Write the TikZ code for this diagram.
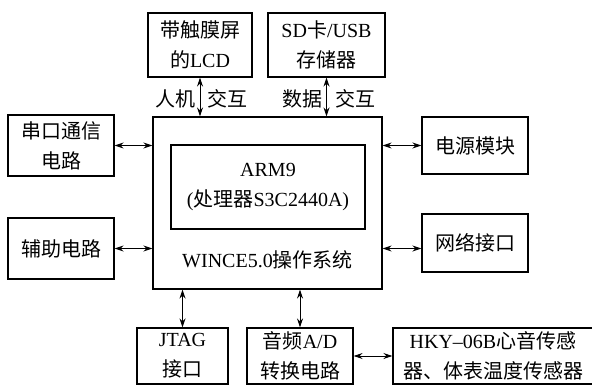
\documentclass[tikz,border=0pt]{standalone}
\usepackage{fontspec}
\setmainfont{Liberation Serif}
\newfontfamily\cjk{Noto Sans CJK SC}
\newcommand\zh[1]{{\cjk #1}}
\usetikzlibrary{arrows.meta}
\begin{document}
\begin{tikzpicture}[x=1pt,y=-1pt,
  box/.style={draw,line width=1.1pt,inner sep=0pt,align=center,font=\fontsize{20}{30}\selectfont},
  lbl/.style={inner sep=0pt,font=\fontsize{20}{30}\selectfont},
  link/.style={line width=0.9pt,{Stealth[length=9pt,width=6pt]}-{Stealth[length=9pt,width=6pt]}}]
\useasboundingbox (0,0) rectangle (592,385);
\node[box,minimum width=104pt,minimum height=64pt] (lcd) at (200,45) {\zh{带触膜屏}\\\zh{的}LCD};
\node[box,minimum width=117pt,minimum height=64pt] (sd) at (326.5,45) {SD\zh{卡}/USB\\\zh{存储器}};
\node[box,minimum width=106pt,minimum height=61pt] (serial) at (61,145.5) {\zh{串口通信}\\\zh{电路}};
\node[box,minimum width=106pt,minimum height=61pt] (aux) at (61,248.5) {\zh{辅助电路}};
\node[box,minimum width=229pt,minimum height=172pt] (main) at (267.5,203) {};
\node[box,minimum width=194pt,minimum height=84pt] (cpu) at (268,187) {ARM9\\(\zh{处理器}S3C2440A)};
\node[lbl] (os) at (267.5,260) {WINCE5.0\zh{操作系统}};
\node[box,minimum width=106pt,minimum height=57pt] (power) at (475,145.5) {\zh{电源模块}};
\node[box,minimum width=106pt,minimum height=58pt] (net) at (475,243) {\zh{网络接口}};
\node[box,minimum width=91pt,minimum height=56pt] (jtag) at (182.5,356) {JTAG\\\zh{接口}};
\node[box,minimum width=106pt,minimum height=56pt] (audio) at (300,356) {\zh{音频}A/D\\\zh{转换电路}};
\node[box,minimum width=200pt,minimum height=56pt] (hky) at (493,356) {HKY–06B\zh{心音传感}\\\zh{器、体表温度传感器}};
\node[lbl] (l1) at (175,99) {\zh{人机}};
\node[lbl] (l2) at (227,99) {\zh{交互}};
\node[lbl] (l3) at (302,99) {\zh{数据}};
\node[lbl] (l4) at (355,99) {\zh{交互}};
\draw[link] (lcd.south) -- (lcd.south |- main.north);
\draw[link] (sd.south) -- (sd.south |- main.north);
\draw[link] (serial.east) -- (serial.east -| main.west);
\draw[link] (aux.east) -- (aux.east -| main.west);
\draw[link] (main.east |- power.west) -- (power.west);
\draw[link] (main.east |- aux.east) -- (net.west |- aux.east);
\draw[link] (jtag.north |- main.south) -- (jtag.north);
\draw[link] (audio.north |- main.south) -- (audio.north);
\draw[link] (audio.east) -- (hky.west);
\end{tikzpicture}
\end{document}
